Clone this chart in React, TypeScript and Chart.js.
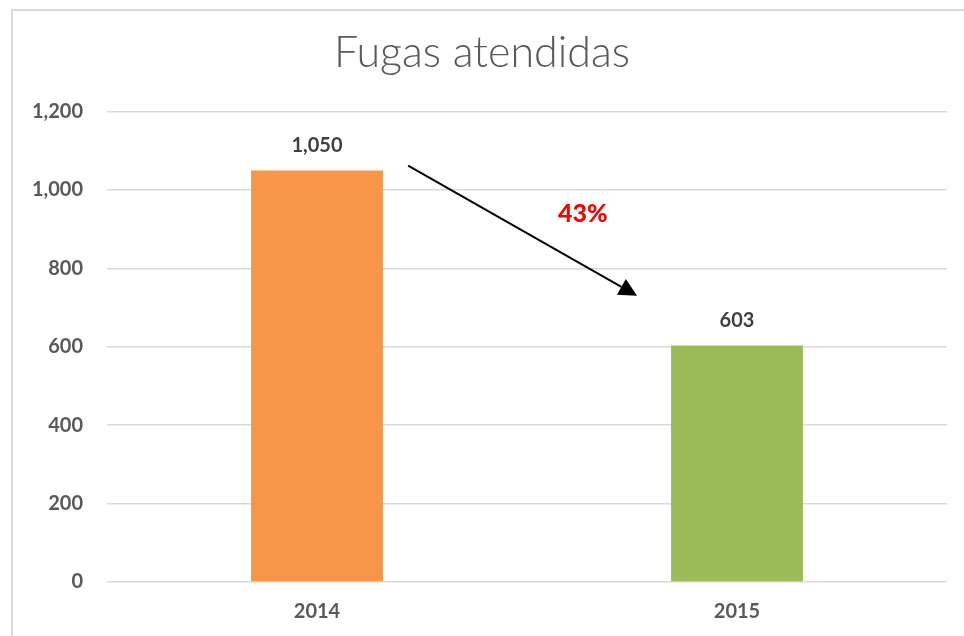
import React, { useEffect, useRef } from "react";
import { Chart, registerables } from "chart.js";

Chart.register(...registerables);

const categories = ["2014", "2015"];
const values = [1050, 603];
const barColors = ["#F79646", "#9BBB59"];
const yTicks = [0, 200, 400, 600, 800, 1000, 1200];
const titleText = "Fugas atendidas";
const changeLabel = "43%";

const W = 964;
const H = 636;
const FONT = "Lato, 'Open Sans', sans-serif";

const framePlugin = {
  id: "frame",
  beforeDraw(chart: any) {
    const ctx = chart.ctx;
    ctx.save();
    ctx.fillStyle = "#ffffff";
    ctx.fillRect(0, 0, chart.width, chart.height);
    ctx.strokeStyle = "#d9d9d9";
    ctx.lineWidth = 2;
    ctx.strokeRect(12, 10, chart.width + 50, chart.height + 50);
    ctx.restore();
  },
};

const labelsPlugin = {
  id: "valueLabels",
  afterDatasetsDraw(chart: any) {
    const ctx = chart.ctx;
    const meta = chart.getDatasetMeta(0);
    ctx.save();
    ctx.font = "bold 20px " + FONT;
    ctx.fillStyle = "#404040";
    ctx.textAlign = "center";
    ctx.textBaseline = "middle";
    meta.data.forEach((bar: any, i: number) => {
      ctx.fillText(values[i].toLocaleString("en-US"), bar.x, bar.y - 25);
    });

    // arrow annotation
    const xs = chart.scales.x;
    const ys = chart.scales.y;
    const x0 = xs.getPixelForValue(0);
    const cw = xs.getPixelForValue(1) - x0;
    const sx = x0 + 0.217 * cw;
    const sy = ys.getPixelForValue(1062);
    const ex = x0 + 0.762 * cw;
    const ey = ys.getPixelForValue(730);
    const ang = Math.atan2(ey - sy, ex - sx);
    const headLen = 18;
    const headW = 9;
    const bx = ex - headLen * Math.cos(ang);
    const by = ey - headLen * Math.sin(ang);
    ctx.strokeStyle = "#000000";
    ctx.lineWidth = 2;
    ctx.beginPath();
    ctx.moveTo(sx, sy);
    ctx.lineTo(bx, by);
    ctx.stroke();
    ctx.fillStyle = "#000000";
    ctx.beginPath();
    ctx.moveTo(ex, ey);
    ctx.lineTo(bx + headW * Math.sin(ang), by - headW * Math.cos(ang));
    ctx.lineTo(bx - headW * Math.sin(ang), by + headW * Math.cos(ang));
    ctx.closePath();
    ctx.fill();

    ctx.font = "900 25px " + FONT;
    ctx.fillStyle = "#FF0000";
    ctx.fillText(changeLabel, x0 + 0.633 * cw, ys.getPixelForValue(940));
    ctx.restore();
  },
};

export default function App() {
  const ref = useRef<HTMLCanvasElement | null>(null);
  useEffect(() => {
    if (!ref.current) return;
    const chart = new Chart(ref.current, {
      type: "bar",
      data: {
        labels: categories,
        datasets: [
          {
            data: values,
            backgroundColor: barColors,
            borderWidth: 0,
            categoryPercentage: 1,
            barPercentage: 0.314,
          },
        ],
      },
      options: {
        responsive: false,
        animation: false,
        layout: { padding: 0 },
        plugins: {
          legend: { display: false },
          tooltip: { enabled: false },
          title: {
            display: true,
            text: titleText,
            color: "#595959",
            font: { family: FONT, size: 43, weight: "300" as any },
            padding: { top: 27, bottom: 33 },
          },
        },
        scales: {
          x: {
            grid: { display: false, drawTicks: false },
            border: { display: false },
            ticks: {
              color: "#595959",
              font: { family: FONT, size: 20, weight: "bold" },
              padding: 18,
            },
            afterFit(scale: any) {
              scale.height = 54;
            },
          },
          y: {
            min: 0,
            max: 1200,
            grid: { color: "#d9d9d9", lineWidth: 1.5, drawTicks: false },
            border: { display: false },
            afterBuildTicks(scale: any) {
              scale.ticks = yTicks.map((v) => ({ value: v }));
            },
            ticks: {
              color: "#595959",
              font: { family: FONT, size: 20, weight: "bold" },
              padding: 24,
              callback: (v: any) => Number(v).toLocaleString("en-US"),
            },
            afterFit(scale: any) {
              scale.width = 107;
            },
          },
          spacer: {
            type: "linear",
            position: "right",
            display: true,
            grid: { display: false, drawTicks: false },
            border: { display: false },
            ticks: { display: false },
            afterFit(scale: any) {
              scale.width = 17;
            },
          },
        },
      },
      plugins: [framePlugin, labelsPlugin],
    });
    return () => chart.destroy();
  }, []);
  return (
    <div style={{ position: "fixed", left: 0, top: 0, width: W, height: H, background: "#fff" }}>
      <canvas ref={ref} width={W} height={H} style={{ display: "block" }} />
    </div>
  );
}
